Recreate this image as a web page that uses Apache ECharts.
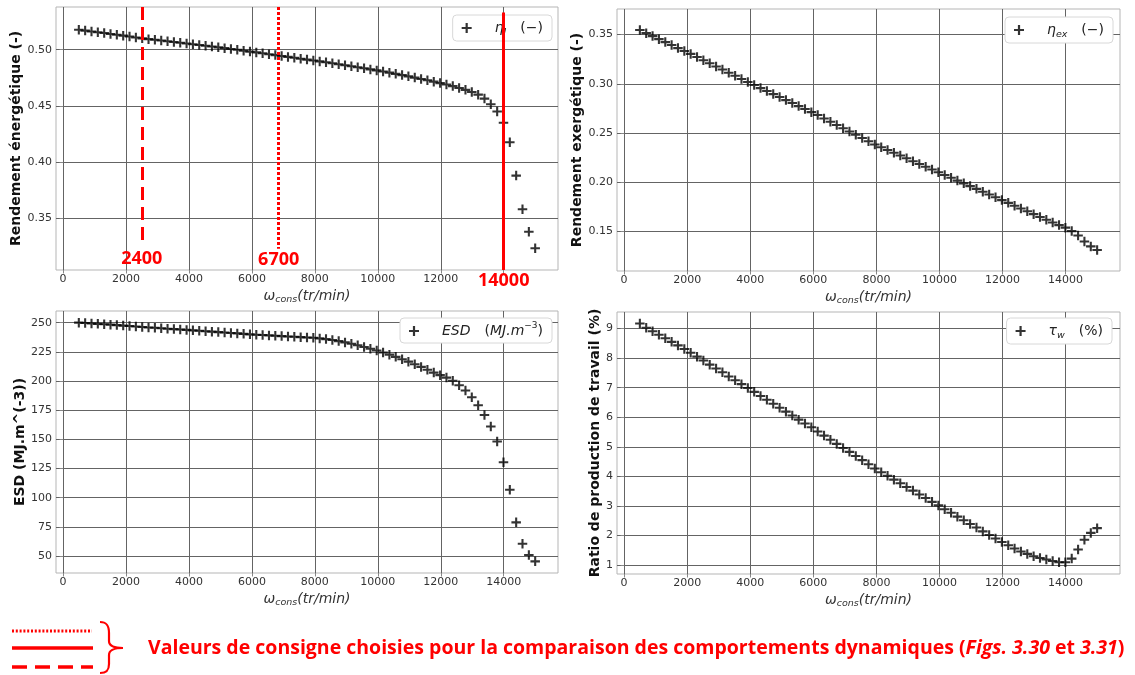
<!DOCTYPE html>
<html><head><meta charset="utf-8">
<script src="https://cdn.jsdelivr.net/npm/echarts@6/dist/echarts.min.js"></script>
<style>html,body{margin:0;padding:0;background:#fff}#c{width:1135px;height:675px}</style>
</head><body><div id="c"></div><script>
// ---------- data ----------
const omega = [500,701,903,1104,1306,1507,1708,1910,2111,2313,2514,2715,2917,3118,3319,3521,3722,3924,4125,4326,4528,4729,4931,5132,5333,5535,5736,5938,6139,6340,6542,6743,6944,7146,7347,7549,7750,7951,8153,8354,8556,8757,8958,9160,9361,9563,9764,9965,10167,10368,10569,10771,10972,11174,11375,11576,11778,11979,12181,12382,12583,12785,12986,13188,13389,13590,13792,13993,14194,14396,14597,14799,15000];
const etaI = [0.5178,0.5170,0.5162,0.5155,0.5148,0.5140,0.5133,0.5125,0.5117,0.5109,0.5101,0.5094,0.5088,0.5082,0.5075,0.5069,0.5062,0.5055,0.5049,0.5042,0.5035,0.5028,0.5021,0.5014,0.5006,0.4999,0.4991,0.4983,0.4976,0.4968,0.4960,0.4952,0.4944,0.4936,0.4928,0.4920,0.4912,0.4904,0.4896,0.4888,0.4880,0.4871,0.4862,0.4853,0.4844,0.4835,0.4825,0.4816,0.4806,0.4796,0.4785,0.4774,0.4763,0.4752,0.4740,0.4728,0.4716,0.4703,0.4690,0.4676,0.4660,0.4643,0.4624,0.4600,0.4565,0.4515,0.4450,0.4350,0.4177,0.3880,0.3580,0.3381,0.3233];
const etaEx = [0.3547,0.3515,0.3485,0.3454,0.3424,0.3394,0.3363,0.3333,0.3304,0.3272,0.3240,0.3209,0.3177,0.3145,0.3113,0.3082,0.3050,0.3019,0.2988,0.2957,0.2927,0.2896,0.2866,0.2835,0.2805,0.2774,0.2744,0.2713,0.2684,0.2648,0.2615,0.2582,0.2549,0.2516,0.2483,0.2450,0.2417,0.2384,0.2356,0.2328,0.2300,0.2272,0.2244,0.2215,0.2187,0.2159,0.2131,0.2102,0.2074,0.2046,0.2018,0.1990,0.1962,0.1934,0.1905,0.1877,0.1849,0.1820,0.1792,0.1763,0.1735,0.1706,0.1677,0.1648,0.1620,0.1592,0.1566,0.1540,0.1505,0.1460,0.1400,0.1350,0.1314];
const esd = [250.0,249.7,249.3,249.0,248.6,248.3,247.9,247.5,247.1,246.7,246.3,245.9,245.6,245.2,244.8,244.5,244.1,243.8,243.4,243.1,242.7,242.3,241.9,241.6,241.2,240.8,240.4,240.0,239.7,239.4,239.1,238.8,238.5,238.2,237.9,237.6,237.3,237.0,236.5,235.9,235.1,234.2,233.1,231.9,230.6,229.2,227.7,226.1,224.4,222.6,220.7,218.7,216.6,214.4,212.1,209.7,207.2,205.0,202.9,200.2,196.4,191.8,186.1,179.2,170.9,161.0,148.1,130.4,106.7,78.8,60.5,50.8,45.4];
const tauW = [9.17,9.03,8.91,8.79,8.67,8.55,8.43,8.31,8.18,8.05,7.92,7.78,7.65,7.52,7.38,7.25,7.12,6.99,6.86,6.72,6.59,6.46,6.32,6.19,6.06,5.92,5.79,5.66,5.52,5.38,5.24,5.10,4.96,4.83,4.69,4.55,4.41,4.27,4.14,4.02,3.89,3.77,3.64,3.52,3.39,3.27,3.14,3.02,2.89,2.77,2.64,2.52,2.39,2.27,2.14,2.02,1.90,1.78,1.67,1.56,1.46,1.38,1.30,1.24,1.19,1.14,1.10,1.10,1.22,1.53,1.86,2.09,2.25];

const xTicks = [0,2000,4000,6000,8000,10000,12000,14000];
const xTickLabelsTL = [0,2000,4000,6000,8000,10000,12000];
const yTicksEtaI = [0.35,0.40,0.45,0.50];
const yTicksEtaEx = [0.15,0.20,0.25,0.30,0.35];
const yTicksEsd = [50,75,100,125,150,175,200,225,250];
const yTicksTau = [1,2,3,4,5,6,7,8,9];
const consigneLabels = ['2400','6700','14000'];
const consigneX = [2500,6850,14000];
const noteText = 'Valeurs de consigne choisies pour la comparaison des comportements dynamiques (';

// ---------- styles ----------
const RED = '#ff0000';
const PLUS = 'path://M0,3.9H3.9V0H6.1V3.9H10V6.1H6.1V10H3.9V6.1H0Z';
const gridCol = '#646464';
const TXT = '#222';
const richMath = {
  m:{fontStyle:'italic',fontSize:14,fontFamily:'DejaVu Sans',color:TXT,lineHeight:20,verticalAlign:'middle',padding:[0,0,0,18]},
  s:{fontStyle:'italic',fontSize:9.5,fontFamily:'DejaVu Sans',color:TXT,lineHeight:10,padding:[10,0,0,0],verticalAlign:'bottom'},
  sup:{fontSize:9,fontFamily:'DejaVu Sans',color:TXT,lineHeight:9,padding:[0,0,10,0],verticalAlign:'top'},
  u:{fontSize:14,fontFamily:'DejaVu Sans',color:TXT,lineHeight:20,verticalAlign:'middle',padding:[0,0,0,14]},
  ui:{fontStyle:'italic',fontSize:14,fontFamily:'DejaVu Sans',color:TXT,lineHeight:20,verticalAlign:'middle'},
  p:{fontSize:14,fontFamily:'DejaVu Sans',color:TXT,lineHeight:20,verticalAlign:'middle'}
};
const xNameRich = {
  a:{fontStyle:'italic',fontSize:14,fontFamily:'DejaVu Sans',color:'#333',lineHeight:18,verticalAlign:'middle'},
  b:{fontStyle:'italic',fontSize:9.5,fontFamily:'DejaVu Sans',color:'#333',lineHeight:9,padding:[9,0,0,0],verticalAlign:'bottom'},
  c:{fontStyle:'italic',fontSize:14,fontFamily:'DejaVu Sans',color:'#333',lineHeight:18,verticalAlign:'middle'}
};

function xAxis(gi, labels){
  return {type:'value',gridIndex:gi,min:-225,max:15725,
    axisLine:{show:false},
    axisTick:{show:true,length:3.5,customValues:xTicks,lineStyle:{color:'#888'}},
    axisLabel:{customValues:labels,fontSize:11,color:'#333',fontFamily:'DejaVu Sans',margin:4,
      formatter:v=>String(v)},
    splitLine:{show:true,lineStyle:{color:gridCol,width:1}},
    name:'{a|ω}{b|cons}{c|(tr/min)}',nameLocation:'middle',nameGap:16,
    nameTextStyle:{rich:xNameRich}};
}
function yAxis(gi,min,max,ticks,name,gap,dec){
  return {type:'value',gridIndex:gi,min:min,max:max,
    axisLine:{show:false},
    axisTick:{show:true,length:3.5,customValues:ticks,lineStyle:{color:'#888'}},
    axisLabel:{customValues:ticks,fontSize:11,color:'#333',fontFamily:'DejaVu Sans',margin:4,
      formatter:v=>v.toFixed(dec)},
    splitLine:{show:true,lineStyle:{color:gridCol,width:1}},
    name:name,nameLocation:'middle',nameGap:gap,
    nameTextStyle:{fontSize:14,fontWeight:'bold',color:'#111',fontFamily:'DejaVu Sans'}};
}
function pts(ys){ return omega.map((x,i)=>[x,ys[i]]); }
function scat(name,gi,ys){
  return {name:name,type:'scatter',xAxisIndex:gi,yAxisIndex:gi,data:pts(ys),
    symbol:PLUS,symbolSize:9.5,itemStyle:{color:'#000'},z:3,silent:true};
}
function legend(name,right,top,fmt){
  return {data:[name],right:right,top:top,orient:'horizontal',
    itemWidth:10,itemHeight:10,padding:[3,9,3,9],
    borderColor:'#d8d8d8',borderWidth:1,borderRadius:4,backgroundColor:'#fff',
    formatter:()=>fmt,textStyle:{rich:richMath}};
}
const gridBase = {show:true,borderColor:'#b5b5b5',borderWidth:1,containLabel:false,outerBoundsMode:'none'};

const lineTypes = [[13,7],[3,2],'solid'];
const lineTops = [0.538,0.538,0.533];
const lineBottoms = [0.330,0.323,0.304];
const labelDist = [9,2,2];
const redLines = consigneX.map((x,i)=>[
  {name:consigneLabels[i],coord:[x,lineTops[i]],
   lineStyle:{color:RED,width:3,type:lineTypes[i]},
   label:{show:true,position:'end',distance:labelDist[i],formatter:'{b}',color:RED,
     fontSize:18,fontWeight:'bold',fontFamily:'Open Sans'}},
  {coord:[x,lineBottoms[i]]}
]);

const braceStyle = {stroke:RED,lineWidth:2.2,fill:null};
const chart = echarts.init(document.getElementById('c'),null,{renderer:'canvas'});
chart.setOption({
  animation:false,
  backgroundColor:'#fff',
  grid:[
    Object.assign({left:56,top:7,width:502,height:263},gridBase),
    Object.assign({left:617,top:9,width:503,height:262},gridBase),
    Object.assign({left:56,top:311,width:502,height:262},gridBase),
    Object.assign({left:617,top:312,width:503,height:262},gridBase)
  ],
  xAxis:[xAxis(0,xTickLabelsTL),xAxis(1,xTicks),xAxis(2,xTicks),xAxis(3,xTicks)],
  yAxis:[
    yAxis(0,0.304,0.538,yTicksEtaI,'Rendement énergétique (-)',27,2),
    yAxis(1,0.110,0.376,yTicksEtaEx,'Rendement exergétique (-)',26,2),
    yAxis(2,35.4,260,yTicksEsd,'ESD (MJ.m^(-3))',23,0),
    yAxis(3,0.70,9.56,yTicksTau,'Ratio de production de travail (%)',10,0)
  ],
  legend:[
    legend('etaI',583,15,'{m|η}{s|I}{u|(−)}'),
    legend('etaEx',22,17,'{m|η}{s|ex}{u|(−)}'),
    legend('esd',583,318,'{m|ESD}{u|(}{ui|MJ.m}{sup|−3}{p|)}'),
    legend('tauW',23,318,'{m|τ}{s|w}{u|(%)}')
  ],
  series:[
    scat('etaI',0,etaI),
    scat('etaEx',1,etaEx),
    scat('esd',2,esd),
    scat('tauW',3,tauW),
    {type:'scatter',name:'consigne',xAxisIndex:0,yAxisIndex:0,data:[],z:6,silent:true,
     markLine:{silent:true,symbol:['none','none'],animation:false,data:redLines}}
  ],
  graphic:[
    {type:'line',shape:{x1:12,y1:631,x2:92,y2:631},style:{stroke:RED,lineWidth:3,lineDash:[2,1.8]}},
    {type:'line',shape:{x1:12,y1:648,x2:93,y2:648},style:{stroke:RED,lineWidth:3.5}},
    {type:'line',shape:{x1:12,y1:667,x2:93,y2:667},style:{stroke:RED,lineWidth:3.5,lineDash:[15,8]}},
    {type:'bezierCurve',shape:{x1:100,y1:622,cpx1:107,cpy1:622,cpx2:109,cpy2:626,x2:109,y2:633},style:braceStyle},
    {type:'line',shape:{x1:109,y1:633,x2:109,y2:641},style:braceStyle},
    {type:'bezierCurve',shape:{x1:109,y1:641,cpx1:109,cpy1:646,cpx2:113,cpy2:648,x2:123,y2:648},style:braceStyle},
    {type:'bezierCurve',shape:{x1:123,y1:648,cpx1:113,cpy1:648,cpx2:109,cpy2:650,x2:109,y2:655},style:braceStyle},
    {type:'line',shape:{x1:109,y1:655,x2:109,y2:664},style:braceStyle},
    {type:'bezierCurve',shape:{x1:109,y1:664,cpx1:109,cpy1:670,cpx2:107,cpy2:673,x2:100,y2:673},style:braceStyle},
    {type:'text',x:148,y:648,style:{
      text:'{n|'+noteText+'}{i|Figs. 3.30}{n| et }{i|3.31}{n|)}',
      verticalAlign:'middle',
      rich:{
        n:{fill:RED,fontSize:19.5,fontWeight:'bold',fontFamily:'Open Sans'},
        i:{fill:RED,fontSize:19.5,fontWeight:'bold',fontStyle:'italic',fontFamily:'Open Sans'}
      }}}
  ]
});
</script></body></html>
